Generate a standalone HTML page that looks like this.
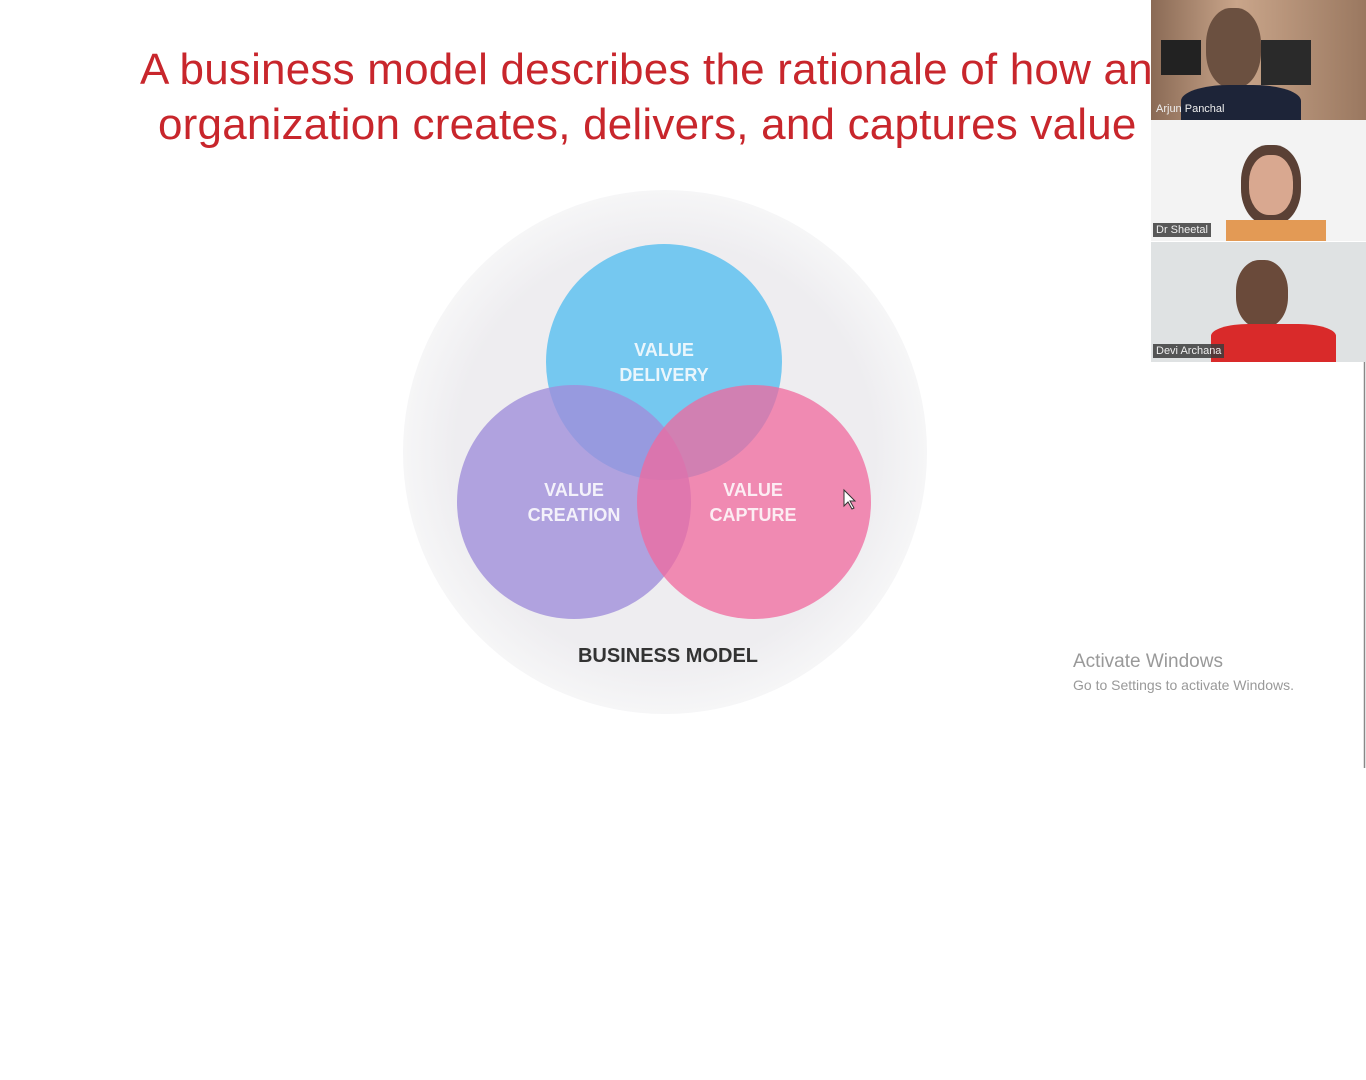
<!DOCTYPE html>
<html><head><meta charset="utf-8"><style>
html,body{margin:0;padding:0;background:#fff;width:1366px;height:1080px;overflow:hidden;font-family:"Liberation Sans",sans-serif;position:relative}
.t{position:absolute;color:#c8262c;font-size:44px;white-space:nowrap;letter-spacing:0.2px}
.tile{position:absolute;left:1151px;width:215px;overflow:hidden}
.lbl{position:absolute;left:2px;background:rgba(60,60,60,.85);color:#eee;font-size:11px;padding:1px 3px}
</style></head><body>
<div class="t" style="left:140px;top:45px">A business model describes the rationale of how an</div>
<div class="t" style="left:158px;top:100px">organization creates, delivers, and captures value</div>
<svg style="position:absolute;left:0;top:0" width="1366" height="1080">
<defs><radialGradient id="g"><stop offset="0.8" stop-color="#eeedf0"/><stop offset="1" stop-color="#f6f6f7"/></radialGradient></defs>
<circle cx="665" cy="452" r="262" fill="url(#g)"/>
<circle cx="664" cy="362" r="118" fill="#6ec6ef" opacity="0.95"/>
<circle cx="574" cy="502" r="117" fill="#a08fdb" opacity="0.8"/>
<circle cx="754" cy="502" r="117" fill="#f0689e" opacity="0.75"/>
<g fill="#fff" font-family="Liberation Sans" font-weight="bold" font-size="18" text-anchor="middle" opacity="0.85">
<text x="664" y="356">VALUE</text><text x="664" y="381">DELIVERY</text>
<text x="574" y="496">VALUE</text><text x="574" y="521">CREATION</text>
<text x="753" y="496">VALUE</text><text x="753" y="521">CAPTURE</text>
</g>
<text x="668" y="662" font-family="Liberation Sans" font-weight="bold" font-size="20" text-anchor="middle" fill="#333">BUSINESS MODEL</text>
<path d="M844 490 L844 506 L848 502 L852 509 L854 508 L850 501 L855 501 Z" fill="#fff" stroke="#333"/>
<line x1="1364.5" y1="362" x2="1364.5" y2="768" stroke="#888" stroke-width="1.5"/>
</svg>
<div class="tile" style="top:0;height:120px;background:linear-gradient(90deg,#8a6a55,#c9a58a 40%,#9a7860)">
 <div style="position:absolute;left:10px;top:40px;width:40px;height:35px;background:#222"></div>
 <div style="position:absolute;left:110px;top:40px;width:50px;height:45px;background:#2a2a2a"></div>
 <div style="position:absolute;left:55px;top:8px;width:55px;height:80px;border-radius:45%;background:#6b5040"></div>
 <div style="position:absolute;left:30px;top:85px;width:120px;height:40px;border-radius:40% 40% 0 0;background:#1d2438"></div>
 <div class="lbl" style="top:102px;background:none">Arjun Panchal</div>
</div>
<div class="tile" style="top:120px;height:121px;background:#f3f3f3">
 <div style="position:absolute;left:90px;top:25px;width:60px;height:80px;border-radius:45%;background:#5a4035"></div>
 <div style="position:absolute;left:98px;top:35px;width:44px;height:60px;border-radius:45%;background:#d9a890"></div>
 <div style="position:absolute;left:75px;top:100px;width:100px;height:25px;background:#e39a55"></div>
 <div class="lbl" style="top:103px">Dr Sheetal</div>
</div>
<div class="tile" style="top:242px;height:120px;background:#dfe2e3">
 <div style="position:absolute;left:85px;top:18px;width:52px;height:68px;border-radius:45%;background:#6a4a3a"></div>
 <div style="position:absolute;left:60px;top:82px;width:125px;height:40px;border-radius:30% 30% 0 0;background:#d92a2a"></div>
 <div class="lbl" style="top:102px">Devi Archana</div>
</div>
<div style="position:absolute;left:1073px;top:651px;color:#999;font-size:19px">Activate Windows</div>
<div style="position:absolute;left:1073px;top:677px;color:#999;font-size:14px">Go to Settings to activate Windows.</div>
</body></html>
